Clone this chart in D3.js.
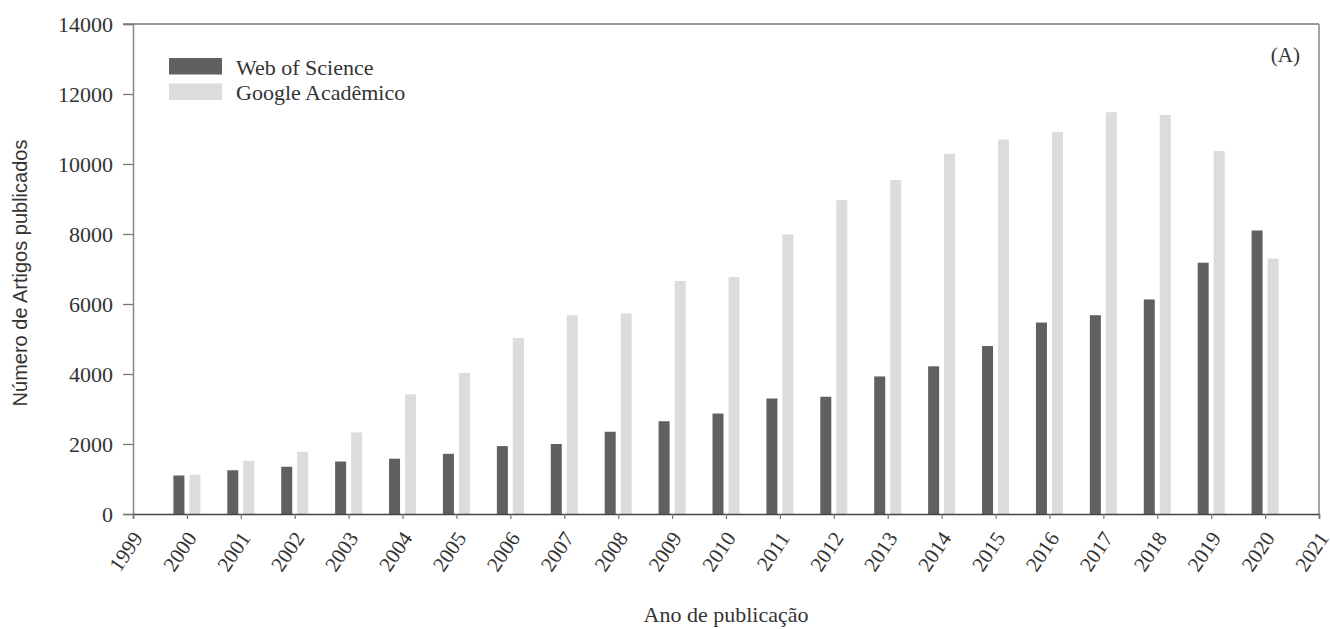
<!DOCTYPE html>
<html>
<head>
<meta charset="utf-8">
<script src="https://cdn.jsdelivr.net/npm/d3@7/dist/d3.min.js"></script>
<style>
  html, body { margin: 0; padding: 0; background: #fff; }
  svg { display: block; }
</style>
</head>
<body>
<svg id="chart" width="1330" height="629"></svg>
<script>
// ---- data ----
const years = [2000, 2001, 2002, 2003, 2004, 2005, 2006, 2007, 2008, 2009, 2010,
               2011, 2012, 2013, 2014, 2015, 2016, 2017, 2018, 2019, 2020];
const webOfScience = [1100, 1250, 1350, 1500, 1580, 1720, 1940, 2000, 2350, 2650, 2870,
                      3300, 3350, 3930, 4220, 4800, 5470, 5680, 6130, 7180, 8100];
const googleAcademico = [1120, 1520, 1780, 2330, 3420, 4030, 5030, 5680, 5730, 6660, 6770,
                         7990, 8970, 9540, 10290, 10700, 10920, 11480, 11400, 10370, 7300];
const seriesNames = ["Web of Science", "Google Acadêmico"];
const yTicks = [0, 2000, 4000, 6000, 8000, 10000, 12000, 14000];
const xTicks = d3.range(1999, 2022);
const xDomain = [1999, 2021];
const yDomain = [0, 14000];

// ---- layout ----
const svg = d3.select("#chart");
const L = 133, R = 1319, T = 24, B = 514;
const colors = ["#606060", "#dcdcdc"];
const serif = "'Liberation Serif', 'Times New Roman', serif";
const sans = "'Liberation Sans', Arial, sans-serif";

const x = d3.scaleLinear().domain(xDomain).range([L, R]);
const y = d3.scaleLinear().domain(yDomain).range([B, T]);

// bars
const barW = 11;
const offsets = [-13.5, 2.5];
const series = [webOfScience, googleAcademico];
series.forEach((vals, si) => {
  svg.append("g").selectAll("rect")
    .data(years.map((yr, i) => ({ yr, v: vals[i] })))
    .join("rect")
    .attr("x", d => x(d.yr) + offsets[si])
    .attr("width", barW)
    .attr("y", d => y(d.v))
    .attr("height", d => y(0) - y(d.v))
    .attr("fill", colors[si]);
});

// frame (top & right)
svg.append("line").attr("x1", L - 10).attr("x2", R).attr("y1", T).attr("y2", T)
  .attr("stroke", "#777").attr("stroke-width", 1.5);
svg.append("line").attr("x1", R).attr("x2", R).attr("y1", T).attr("y2", B)
  .attr("stroke", "#888").attr("stroke-width", 1.5);

// y axis
const yAxis = d3.axisLeft(y).tickValues(yTicks).tickSize(10).tickPadding(10)
  .tickFormat(d3.format("d"));
const gy = svg.append("g").attr("transform", `translate(${L},0)`).call(yAxis);
gy.select(".domain").attr("stroke", "#888").attr("stroke-width", 1.5);
gy.selectAll(".tick line").attr("stroke", "#777").attr("stroke-width", 1.3);
gy.selectAll(".tick text").attr("font-family", serif).attr("font-size", 22)
  .attr("fill", "#333");

// x axis
const xAxis = d3.axisBottom(x).tickValues(xTicks).tickSize(5).tickFormat(d3.format("d"));
const gx = svg.append("g").attr("transform", `translate(0,${B})`).call(xAxis);
gx.select(".domain").attr("stroke", "#444").attr("stroke-width", 1.5);
gx.selectAll(".tick line").attr("stroke", "#777").attr("stroke-width", 1.2);
gx.selectAll(".tick text")
  .attr("font-family", serif).attr("font-size", 21).attr("fill", "#333")
  .attr("text-anchor", "end")
  .attr("transform", "translate(4,20) rotate(-56)")
  .attr("x", 0).attr("y", 0).attr("dy", "0.35em");

// axis titles
svg.append("text")
  .attr("x", (L + R) / 2).attr("y", 622)
  .attr("text-anchor", "middle")
  .attr("font-family", serif).attr("font-size", 22).attr("fill", "#333")
  .text("Ano de publicação");

svg.append("text")
  .attr("transform", `translate(27,${(T + B) / 2 + 4}) rotate(-90)`)
  .attr("text-anchor", "middle")
  .attr("font-family", sans).attr("font-size", 20).attr("fill", "#333")
  .text("Número de Artigos publicados");

// legend
const lg = svg.append("g");
seriesNames.forEach((name, i) => {
  lg.append("rect").attr("x", 169).attr("y", 58 + i * 25.5)
    .attr("width", 53).attr("height", 16.5).attr("fill", colors[i]);
  lg.append("text").attr("x", 236).attr("y", 75 + i * 25)
    .attr("font-family", serif).attr("font-size", 22).attr("fill", "#333")
    .text(name);
});

// panel label
svg.append("text").attr("x", 1300).attr("y", 62).attr("text-anchor", "end")
  .attr("font-family", serif).attr("font-size", 21).attr("fill", "#333")
  .text("(A)");
</script>
</body>
</html>
